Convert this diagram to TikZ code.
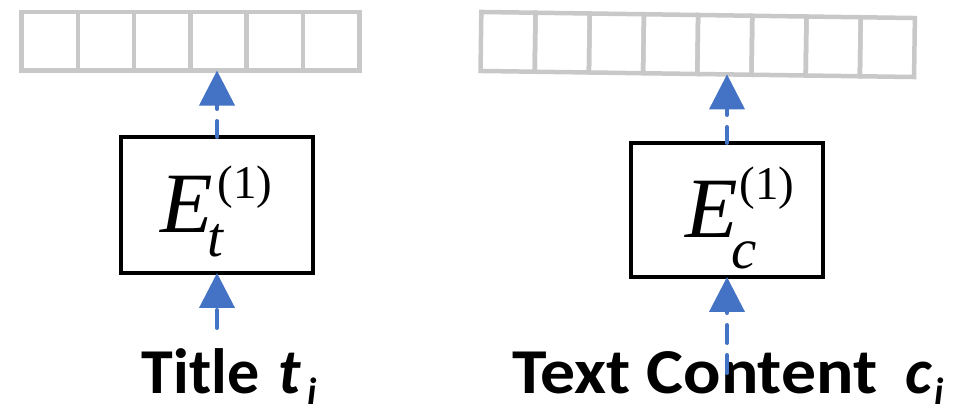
\documentclass[tikz,border=0pt]{standalone}
\usepackage{fontspec}
\setmainfont{Carlito}
\newfontfamily\tms{Liberation Serif}
\usetikzlibrary{arrows.meta}
\definecolor{cellgray}{HTML}{C8C8C8}
\definecolor{arrblue}{HTML}{4472C4}
\tikzset{
  cell/.style={draw=cellgray, line width=4.5pt, minimum width=56.3pt, minimum height=58.5pt, inner sep=0pt, outer sep=0pt, anchor=center},
  rcell/.style={cell, minimum width=54.2pt, minimum height=59pt, transform shape},
  encbox/.style={draw=black, line width=4pt, inner sep=0pt, outer sep=0pt},
  flow/.style={draw=arrblue, line width=4pt, dash pattern=on 16pt off 12pt, line cap=round,
    -{Triangle[length=35pt,width=35pt,line cap=butt]}},
  lbl/.style={font=\fontsize{64}{64}\selectfont\bfseries, inner sep=0pt, anchor=base west},
  formula/.style={inner sep=0pt, anchor=base west}
}
\newcommand{\bigE}{{\tms\itshape\fontsize{86}{86}\selectfont E}}
\newcommand{\onepar}{{\tms\fontsize{47}{47}\selectfont (1)}}
\newcommand{\subsc}[1]{{\tms\itshape\fontsize{57}{57}\selectfont #1}}
\newcommand{\subi}{\raisebox{-11pt}{\fontsize{38}{38}\selectfont\bfseries\itshape i}}
\begin{document}
\begin{tikzpicture}[x=1pt,y=-1pt]
\useasboundingbox (0,0) rectangle (961,411);
% left strip
\foreach \i in {1,...,6}{
  \node[cell] (L\i) at ({21.5+56.3*(\i-0.5)},41.3) {};
}
% right strip (slightly tilted)
\begin{scope}[shift={(697.7,44.5)}, rotate=-0.8]
\foreach \i in {1,...,8}{
  \node[rcell] (R\i) at ({54.2*(\i-4.5)},0) {};
}
\end{scope}
% encoder boxes
\node[encbox, minimum width=192pt, minimum height=136pt] (Et) at (217,205) {};
\node[encbox, minimum width=192pt, minimum height=134pt] (Ec) at (727,210) {};
% formulas
\node[formula] (ft) at (160,233) {\bigE\rlap{\hspace{-5pt}\raisebox{-24pt}{\subsc{t}}}\hspace{5pt}\raisebox{34pt}{\onepar}};
\node[formula] (fc) at (685,238) {\bigE\rlap{\hspace{-6pt}\raisebox{-31pt}{\subsc{c}}}\hspace{2pt}\raisebox{38pt}{\onepar}};
% labels
\node[lbl] (lt) at (141.7,393) {Title\hspace{19pt}\textit{t}\hspace{6pt}\subi};
\node[lbl] (lc) at (512,393) {\scalebox{1.09}[1]{Text Content}\hspace{28pt}\textit{c}\hspace{2pt}\subi};
% connectors
\coordinate (st) at (217,328);
\coordinate (sc) at (727,373);
\draw[flow, dash pattern=on 18pt off 12pt] (st) -- (Et.south);
\draw[flow, dash pattern=on 18pt off 12pt] (sc) -- (Ec.south);
\draw[flow] (Et.north) -- (Et.north |- L4.south);
\draw[flow] (Ec.north) -- (Ec.north |- R5.south);
\end{tikzpicture}
\end{document}
